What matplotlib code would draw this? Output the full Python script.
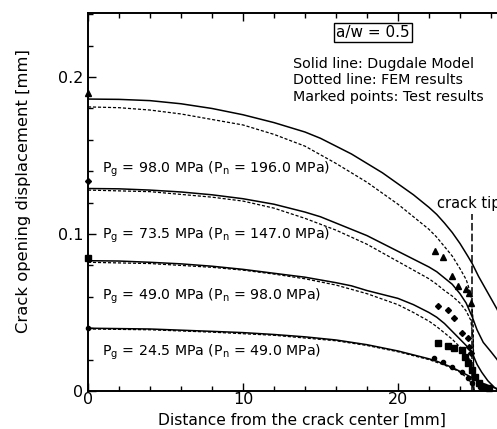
import matplotlib
matplotlib.use("Agg")
import matplotlib.pyplot as plt
from matplotlib.ticker import MultipleLocator

# Dugdale model (solid lines)
dug_x_98 = [0, 2, 4, 6, 8, 10, 12, 14, 15, 16, 17, 18, 19, 20, 21, 22, 22.5, 23, 23.5, 24, 24.5, 24.8,
            25.2, 25.6, 26, 26.4, 26.8, 27.2, 27.6, 28]
dug_y_98 = [0.186, 0.1858, 0.185, 0.183, 0.180, 0.176, 0.171, 0.165, 0.161, 0.156, 0.151, 0.145, 0.139,
            0.132, 0.125, 0.117, 0.1125, 0.107, 0.101, 0.094, 0.086, 0.081, 0.073, 0.066, 0.059, 0.052,
            0.043, 0.033, 0.020, 0.0]
dug_x_735 = [0, 2, 4, 6, 8, 10, 12, 14, 15, 16, 17, 18, 19, 20, 21, 22, 22.5, 23, 23.5, 24, 24.4, 24.8,
             25.1, 25.5, 26, 26.4, 26.8, 27.2, 27.6]
dug_y_735 = [0.129, 0.1288, 0.128, 0.1268, 0.125, 0.1225, 0.119, 0.114, 0.111, 0.107, 0.103, 0.099,
             0.094, 0.089, 0.084, 0.079, 0.076, 0.072, 0.068, 0.062, 0.056, 0.047, 0.039, 0.031, 0.025,
             0.020, 0.013, 0.006, 0.0]
dug_x_49 = [0, 2, 4, 6, 8, 10, 12, 14, 16, 17, 18, 19, 20, 21, 22, 22.5, 23, 23.5, 24, 24.4, 24.8, 25.1,
            25.4, 25.8, 26.2, 26.5]
dug_y_49 = [0.083, 0.0828, 0.082, 0.081, 0.0795, 0.0775, 0.075, 0.0725, 0.069, 0.067, 0.064, 0.0615,
            0.059, 0.055, 0.050, 0.047, 0.043, 0.038, 0.033, 0.029, 0.024, 0.017, 0.012, 0.0065, 0.0025, 0.0]
dug_x_245 = [0, 4, 8, 10, 12, 14, 16, 17, 18, 19, 20, 21, 22, 22.5, 23, 23.5, 24, 24.5, 25, 25.5, 26,
             26.5, 27]
dug_y_245 = [0.040, 0.0395, 0.038, 0.0372, 0.036, 0.0345, 0.0325, 0.031, 0.0295, 0.0275, 0.0255, 0.023,
             0.0205, 0.019, 0.017, 0.015, 0.0125, 0.010, 0.0072, 0.0048, 0.0028, 0.0012, 0.0]

# FEM results (dotted lines)
fem_x_98 = [0, 2, 4, 6, 8, 10, 12, 14, 16, 18, 19, 20, 21, 22, 22.5, 23, 23.5, 24, 24.4, 24.7, 24.85, 24.9]
fem_y_98 = [0.181, 0.1805, 0.179, 0.1765, 0.173, 0.1695, 0.1635, 0.156, 0.145, 0.133, 0.126, 0.119,
            0.111, 0.103, 0.098, 0.092, 0.086, 0.078, 0.071, 0.062, 0.045, 0.0]
fem_x_735 = [0, 4, 8, 10, 12, 14, 16, 17, 18, 19, 20, 21, 22, 22.5, 23, 23.5, 24, 24.4, 24.7, 24.85, 24.9]
fem_y_735 = [0.128, 0.127, 0.1235, 0.121, 0.1165, 0.110, 0.1025, 0.098, 0.0935, 0.088, 0.0825, 0.077,
             0.0715, 0.068, 0.064, 0.0605, 0.056, 0.051, 0.045, 0.033, 0.0]
fem_x_49 = [0, 4, 8, 10, 12, 14, 16, 18, 19, 20, 21, 22, 22.5, 23, 23.5, 24, 24.4, 24.7, 24.85, 24.9]
fem_y_49 = [0.082, 0.0812, 0.0788, 0.077, 0.0745, 0.0715, 0.0675, 0.062, 0.0585, 0.055, 0.050, 0.0445,
            0.041, 0.037, 0.033, 0.028, 0.024, 0.019, 0.012, 0.0]
fem_x_245 = [0, 4, 8, 12, 16, 18, 20, 21, 22, 23, 23.5, 24, 24.5, 24.8, 24.9]
fem_y_245 = [0.0395, 0.039, 0.0375, 0.0355, 0.032, 0.029, 0.025, 0.0225, 0.020, 0.0165, 0.0145, 0.012,
             0.008, 0.004, 0.0]

# test results (marked points)
tri_x = [0, 22.4, 22.9, 23.5, 23.9, 24.4, 24.6, 24.7]
tri_y = [0.19, 0.089, 0.0855, 0.073, 0.067, 0.065, 0.0625, 0.056]
dia_x = [0, 22.6, 23.2, 23.6, 24.1, 24.5, 24.6, 24.7]
dia_y = [0.134, 0.054, 0.0516, 0.0465, 0.037, 0.034, 0.028, 0.024]
sq_x = [0, 22.6, 23.2, 23.6, 24.1, 24.3, 24.5, 24.8, 25.0, 25.2, 25.5, 25.9]
sq_y = [0.0847, 0.0305, 0.0287, 0.0274, 0.026, 0.0217, 0.0178, 0.0134, 0.0089, 0.005, 0.0025, 0.0019]
dot_x = [0, 22.3, 22.9, 23.5, 24.1, 24.5, 24.8, 25.3]
dot_y = [0.040, 0.021, 0.0185, 0.0153, 0.0121, 0.0083, 0.005, 0.0025]

crack_tip = 24.8

labels = [
    (0.141, r"$\mathregular{P_g}$ = 98.0 MPa ($\mathregular{P_n}$ = 196.0 MPa)"),
    (0.0994, r"$\mathregular{P_g}$ = 73.5 MPa ($\mathregular{P_n}$ = 147.0 MPa)"),
    (0.060, r"$\mathregular{P_g}$ = 49.0 MPa ($\mathregular{P_n}$ = 98.0 MPa)"),
    (0.0248, r"$\mathregular{P_g}$ = 24.5 MPa ($\mathregular{P_n}$ = 49.0 MPa)"),
]

fig = plt.figure(figsize=(4.97, 4.29), dpi=100)
ax = fig.add_axes([0.177, 0.0886, 0.9356, 0.881])

for xs, ys in [(dug_x_98, dug_y_98), (dug_x_735, dug_y_735), (dug_x_49, dug_y_49), (dug_x_245, dug_y_245)]:
    ax.plot(xs, ys, color="black", lw=1.1)
for xs, ys in [(fem_x_98, fem_y_98), (fem_x_735, fem_y_735), (fem_x_49, fem_y_49), (fem_x_245, fem_y_245)]:
    ax.plot(xs, ys, color="black", lw=0.9, linestyle=(0, (2.5, 1.5)))

ax.plot(tri_x, tri_y, "^", color="black", ms=4, clip_on=False)
ax.plot(dia_x, dia_y, "D", color="black", ms=3, clip_on=False)
ax.plot(sq_x, sq_y, "s", color="black", ms=4.5, clip_on=False)
ax.plot(dot_x, dot_y, "o", color="black", ms=3, clip_on=False)

ax.vlines(crack_tip, 0, 0.113, color="black", lw=1.1, linestyle=(0, (5, 2)))
ax.text(22.5, 0.1195, "crack tip", fontsize=10.5, ha="left", va="center")

for y, txt in labels:
    ax.text(0.9, y, txt, fontsize=10.2, ha="left", va="center")

ax.text(18.4, 0.2283, "a/w = 0.5", fontsize=11, ha="center", va="center",
        bbox=dict(boxstyle="square,pad=0.15", fc="white", ec="black", lw=1))
ax.text(13.2, 0.2085, "Solid line: Dugdale Model", fontsize=10.3, ha="left", va="center")
ax.text(13.2, 0.198, "Dotted line: FEM results", fontsize=10.3, ha="left", va="center")
ax.text(13.2, 0.1875, "Marked points: Test results", fontsize=10.3, ha="left", va="center")

ax.set_xlim(0, 30)
ax.set_ylim(0, 0.2408)
ax.set_xticks([0, 10, 20], ["0", "10", "20"])
ax.set_yticks([0, 0.1, 0.2], ["0", "0.1", "0.2"])
ax.xaxis.set_minor_locator(MultipleLocator(2))
ax.yaxis.set_minor_locator(MultipleLocator(0.02))
ax.tick_params(which="both", direction="in", top=True, labelsize=11.5, width=1)
ax.tick_params(which="major", length=6)
ax.tick_params(axis="x", pad=1)
ax.tick_params(which="minor", length=3.5)
for s in ax.spines.values():
    s.set_linewidth(1.4)

ax.set_xlabel("Distance from the crack center [mm]", fontsize=11.2)
ax.set_ylabel("Crack opening displacement [mm]", fontsize=11.8)
ax.xaxis.set_label_coords(0.46, -0.058)
ax.yaxis.set_label_coords(-0.122, 0.53)

fig.savefig("out.png", dpi=100)
